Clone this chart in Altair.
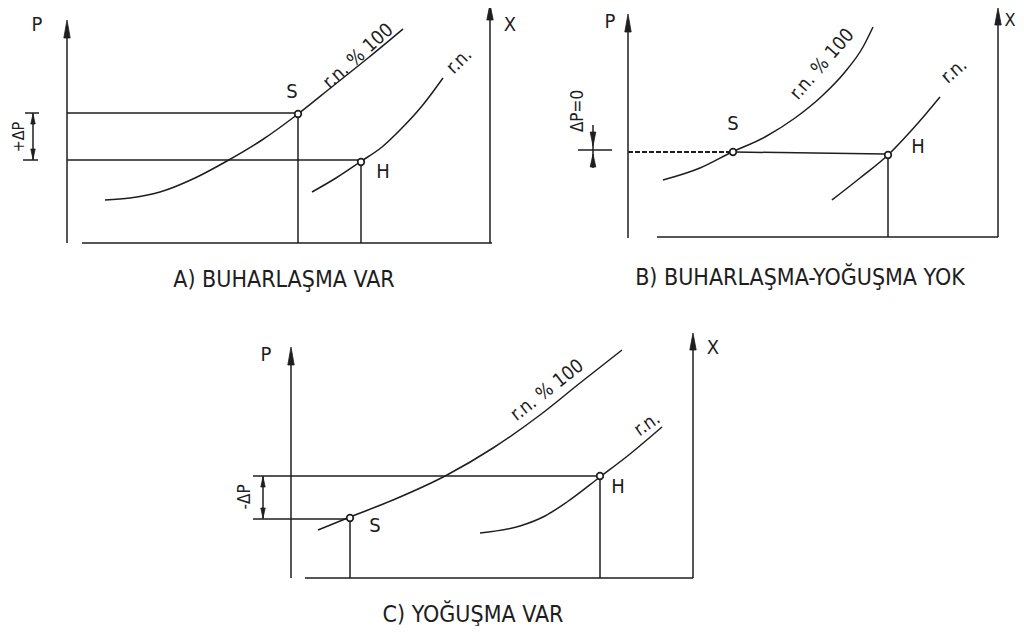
import altair as alt
import pandas as pd

# ---------------- data (schematic coordinates) ----------------
# Panel A: BUHARLAŞMA VAR
A_P_axis_x, A_P_axis_y = [67, 67], [243, 34]
A_X_axis_x, A_X_axis_y = [490, 490], [243, 16]
A_base_x, A_base_y = [82, 492], [243, 243]
A_hS_x, A_hS_y = [67, 296], [113, 113]
A_hH_x, A_hH_y = [67, 358], [160, 160]
A_vS_x, A_vS_y = [298, 298], [117, 243]
A_vH_x, A_vH_y = [361, 361], [165, 243]
A_dp_x, A_dp_y = [33, 33], [113, 160]
A_dpt1_x, A_dpt1_y = [25, 39], [113, 113]
A_dpt2_x, A_dpt2_y = [23, 38], [160, 160]
A_c100_x = [105, 130, 160, 195, 227, 262, 298, 333, 368, 403]
A_c100_y = [200, 198, 192, 178, 161, 140, 114, 86, 58, 29]
A_crn_x = [312, 336, 360, 382, 400, 422, 443]
A_crn_y = [192, 178, 162, 147, 130, 106, 78]

# Panel B: BUHARLAŞMA-YOĞUŞMA YOK
B_P_axis_x, B_P_axis_y = [628, 628], [238, 28]
B_X_axis_x, B_X_axis_y = [998, 998], [237, 21]
B_base_x, B_base_y = [657, 998], [237, 237]
B_hdash_x, B_hdash_y = [628, 730], [152, 152]
B_h_x, B_h_y = [735, 885], [152, 154]
B_vH_x, B_vH_y = [888, 888], [158, 237]
B_dpv_x, B_dpv_y = [593, 593], [125, 168]
B_dph_x, B_dph_y = [578, 612], [150, 150]
B_c100_x = [663, 700, 732, 765, 795, 822, 845, 863, 873]
B_c100_y = [180, 168, 152, 137, 118, 96, 72, 47, 27]
B_crn_x = [832, 860, 888, 910, 925, 940]
B_crn_y = [200, 178, 155, 132, 115, 97]

# Panel C: YOĞUŞMA VAR
C_P_axis_x, C_P_axis_y = [291, 291], [578, 361]
C_X_axis_x, C_X_axis_y = [693, 693], [578, 346]
C_base_x, C_base_y = [305, 693], [578, 578]
C_hH_x, C_hH_y = [253, 597], [476, 476]
C_hS_x, C_hS_y = [253, 347], [519, 519]
C_vS_x, C_vS_y = [350, 350], [522, 578]
C_vH_x, C_vH_y = [600, 600], [480, 578]
C_dp_x, C_dp_y = [263, 263], [476, 519]
C_c100_x = [318, 350, 393, 447, 493, 540, 580, 622]
C_c100_y = [530, 517, 500, 475, 448, 415, 383, 350]
C_crn_x = [480, 520, 545, 567, 600, 630, 662]
C_crn_y = [533, 526, 516, 502, 477, 454, 427]

# markers (S / H points)
pt_x = [298, 361, 733, 888, 350, 600]
pt_y = [114, 162, 152, 155, 518, 476]

# arrowheads: tip position, base level, half width
arr_x = [67, 490, 628, 998, 291, 693, 33, 33, 263, 263, 593, 593]
arr_tip = [20, 4, 14, 8, 347, 333, 114, 159, 477, 518, 146, 154]
arr_base = [38, 20, 32, 25, 365, 350, 124, 149, 487, 508, 132, 167]
arr_hw = [3.2, 3.2, 3.2, 3.2, 3.2, 3.2, 2.2, 2.2, 2.2, 2.2, 2.8, 2.8]

# texts
txt = ["P", "X", "S", "H", "r.n. % 100", "r.n.", "+ΔP", "A) BUHARLAŞMA VAR",
       "P", "X", "S", "H", "r.n. % 100", "r.n.", "ΔP=0", "B) BUHARLAŞMA-YOĞUŞMA YOK",
       "P", "X", "S", "H", "r.n. % 100", "r.n.", "-ΔP", "C) YOĞUŞMA VAR"]
txt_x = [37, 510, 292, 383, 358, 459, 19, 284,
         610, 1010, 733, 918, 822, 954, 578, 800,
         266, 713, 375, 618, 547, 647, 245, 473]
txt_y = [25, 25, 92, 172, 56, 61, 137, 280,
         22, 21, 124, 147, 64, 71, 111, 278,
         355, 348, 526, 487, 390, 424, 497, 615]
txt_angle = [0, 0, 0, 0, 318, 315, 270, 0,
             0, 0, 0, 0, 311, 319, 270, 0,
             0, 0, 0, 0, 322, 325, 270, 0]
txt_size = [20, 20, 20, 20, 19, 19, 16, 23,
            20, 18, 20, 20, 19, 19, 17, 23,
            20, 20, 20, 20, 19, 19, 17, 23]

# ---------------- build tables ----------------
solid = {
    "A_P": (A_P_axis_x, A_P_axis_y), "A_X": (A_X_axis_x, A_X_axis_y),
    "A_base": (A_base_x, A_base_y), "A_hS": (A_hS_x, A_hS_y), "A_hH": (A_hH_x, A_hH_y),
    "A_vS": (A_vS_x, A_vS_y), "A_vH": (A_vH_x, A_vH_y), "A_dp": (A_dp_x, A_dp_y),
    "A_t1": (A_dpt1_x, A_dpt1_y), "A_t2": (A_dpt2_x, A_dpt2_y),
    "A_c100": (A_c100_x, A_c100_y), "A_crn": (A_crn_x, A_crn_y),
    "B_P": (B_P_axis_x, B_P_axis_y), "B_X": (B_X_axis_x, B_X_axis_y),
    "B_base": (B_base_x, B_base_y), "B_h": (B_h_x, B_h_y), "B_vH": (B_vH_x, B_vH_y),
    "B_dpv": (B_dpv_x, B_dpv_y), "B_dph": (B_dph_x, B_dph_y),
    "B_c100": (B_c100_x, B_c100_y), "B_crn": (B_crn_x, B_crn_y),
    "C_P": (C_P_axis_x, C_P_axis_y), "C_X": (C_X_axis_x, C_X_axis_y),
    "C_base": (C_base_x, C_base_y), "C_hH": (C_hH_x, C_hH_y), "C_hS": (C_hS_x, C_hS_y),
    "C_vS": (C_vS_x, C_vS_y), "C_vH": (C_vH_x, C_vH_y), "C_dp": (C_dp_x, C_dp_y),
    "C_c100": (C_c100_x, C_c100_y), "C_crn": (C_crn_x, C_crn_y),
}
rows = []
for k, (xs, ys) in solid.items():
    for i, (a, b) in enumerate(zip(xs, ys)):
        rows.append({"id": k, "x": a, "y": b, "o": i})
lines_df = pd.DataFrame(rows)
dash_df = pd.DataFrame({"id": "B_dash", "x": B_hdash_x, "y": B_hdash_y, "o": [0, 1]})
pts_df = pd.DataFrame({"x": pt_x, "y": pt_y})

arows = []
for i, (ax, tp, bs, hw) in enumerate(zip(arr_x, arr_tip, arr_base, arr_hw)):
    arows.append({"id": i, "y": tp, "x": ax, "x2": ax})
    arows.append({"id": i, "y": bs, "x": ax - hw, "x2": ax + hw})
arr_df = pd.DataFrame(arows)
txt_df = pd.DataFrame({"t": txt, "x": txt_x, "y": txt_y, "a": txt_angle, "s": txt_size})

XS = alt.Scale(domain=[8, 1016], nice=False, zero=False)
YS = alt.Scale(domain=[8, 626], nice=False, zero=False, reverse=True)
X = alt.X("x:Q", scale=XS, axis=None)
Y = alt.Y("y:Q", scale=YS, axis=None)
INK = "#1e1e1e"
FONT = "DejaVu Sans Condensed, Liberation Sans Narrow, DejaVu Sans, sans-serif"

lines = alt.Chart(lines_df).mark_line(color=INK, strokeWidth=1.5, interpolate="monotone").encode(
    x=X, y=Y, detail="id:N", order="o:Q")
dashed = alt.Chart(dash_df).mark_line(color=INK, strokeWidth=2, strokeDash=[5, 2]).encode(
    x=X, y=Y, detail="id:N", order="o:Q")
arrows = alt.Chart(arr_df).mark_area(color=INK, opacity=1, orient="horizontal",
                                     stroke=INK, strokeWidth=0.8).encode(
    y=Y, x=X, x2="x2:Q", detail="id:N")
pts = alt.Chart(pts_df).mark_point(shape="circle", size=44, filled=False, fill="white",
                                   stroke=INK, strokeWidth=1.7, opacity=1).encode(x=X, y=Y)
texts = alt.Chart(txt_df).mark_text(color=INK, font=FONT, align="center", baseline="middle").encode(
    x=X, y=Y, text="t:N", angle=alt.Angle("a:Q", scale=None), size=alt.Size("s:Q", scale=None))

chart = alt.layer(lines, dashed, arrows, pts, texts).properties(
    width=1008, height=618, padding=0, background="white",
    autosize=alt.AutoSizeParams(type="none")
).configure_view(stroke=None)

chart.save("out.html", embed_options={"renderer": "svg", "actions": False})
